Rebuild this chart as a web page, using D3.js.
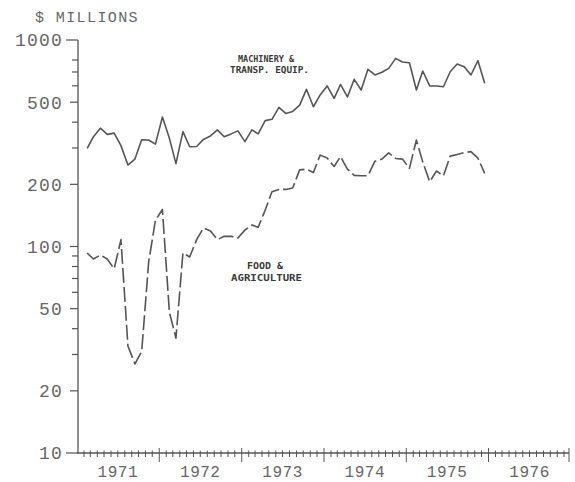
<!DOCTYPE html>
<html><head><meta charset="utf-8">
<script src="https://cdn.jsdelivr.net/npm/d3@7"></script>
<style>
html,body{margin:0;padding:0;background:#fff;}
svg{display:block;}
</style></head>
<body>
<svg id="c" width="575" height="482"></svg>
<script>
// ---- data (monthly, Feb 1971 - Dec 1975), $ millions ----
const startYear = 1971, startMonth = 1; // February (0-based month)
const years = ["1971","1972","1973","1974","1975","1976"];
const yTickValues = [1000,800,700,600,500,400,300,200,100,90,80,70,60,50,40,30,20,10];
const yTickLabels = [1000,500,200,100,50,20,10];
const machinery = [299,340,374,349,354,308,248,265,329,328,313,424,334,252,360,304,305,330,343,367,
  340,351,363,322,367,351,407,413,472,441,451,484,577,475,542,599,522,609,530,645,
  573,721,677,698,729,815,783,776,573,708,599,599,594,702,765,743,677,794,617];
const food = [93,87,91,87,78,108,33,27,31,84,134,151,48,36,93,89,108,123,119,108,
  112,112,110,120,127,124,150,184,189,189,192,235,237,228,277,268,244,273,237,221,
  220,220,259,265,284,267,265,239,328,257,206,232,220,274,279,285,288,268,226];
const seriesLabels = [["MACHINERY &","TRANSP. EQUIP."],["FOOD &","AGRICULTURE"]];
const unitLabel = "$ MILLIONS";

// ---- layout ----
const svg = d3.select("#c");
const ink = "#555", textInk = "#666";
const x = d3.scaleTime().domain([new Date(1971,0,1), new Date(1977,0,1)]).range([77, 571]);
const y = d3.scaleLog().domain([10,1000]).range([453, 40]);
const axisX = 78;
const dateOf = i => new Date(startYear, startMonth + i, 15);

// y axis
svg.append("line").attr("x1",axisX).attr("x2",axisX).attr("y1",y(1000)).attr("y2",y(10))
  .attr("stroke",ink).attr("stroke-width",1.3);
svg.selectAll(".yt").data(yTickValues).enter().append("line")
  .attr("x1", d => axisX - (d===1000||d===10 ? 12 : (yTickLabels.includes(d) ? 8 : 6)))
  .attr("x2", axisX).attr("y1", d=>y(d)).attr("y2", d=>y(d))
  .attr("stroke",ink).attr("stroke-width",1.2);
svg.selectAll(".yl").data(yTickLabels).enter().append("text")
  .attr("x", 63).attr("y", d=>y(d)).attr("dy","0.36em")
  .attr("text-anchor","end")
  .attr("font-family","'Liberation Mono','DejaVu Sans Mono',monospace")
  .attr("font-size", 18).attr("letter-spacing", 1.2)
  .attr("fill", textInk).text(d=>d);

// x axis
svg.append("line").attr("x1",77).attr("x2",569).attr("y1",453).attr("y2",453)
  .attr("stroke",ink).attr("stroke-width",1.3);
const months = d3.timeMonth.range(new Date(1971,1,1), new Date(1977,0,1));
svg.selectAll(".mt").data(months).enter().append("line")
  .attr("x1", d=>x(d)).attr("x2", d=>x(d))
  .attr("y1", d => d.getMonth()===0 ? 448 : 450.5)
  .attr("y2", d => d.getMonth()===0 ? 462 : 457)
  .attr("stroke",ink).attr("stroke-width",1);
svg.append("line").attr("x1",569).attr("x2",569).attr("y1",448).attr("y2",462)
  .attr("stroke",ink).attr("stroke-width",1);
svg.selectAll(".xl").data(years).enter().append("text")
  .attr("x", d => x(new Date(+d, 6, 1))).attr("y", 477)
  .attr("text-anchor","middle")
  .attr("font-family","'Liberation Mono','DejaVu Sans Mono',monospace")
  .attr("font-size", 16).attr("letter-spacing", 0.5)
  .attr("fill", textInk).text(d=>d);

// unit label
svg.append("text").attr("x",35).attr("y",22)
  .attr("font-family","'Liberation Mono','DejaVu Sans Mono',monospace")
  .attr("font-size",15).attr("letter-spacing",1.4)
  .attr("fill",textInk).text(unitLabel);

// lines
const line = d3.line().x((d,i)=>x(dateOf(i))).y(d=>y(d));
svg.append("path").datum(machinery).attr("d",line)
  .attr("fill","none").attr("stroke",ink).attr("stroke-width",1.6)
  .attr("stroke-linejoin","round");
svg.append("path").datum(food).attr("d",line)
  .attr("fill","none").attr("stroke",ink).attr("stroke-width",1.6)
  .attr("stroke-linejoin","round").attr("stroke-dasharray","15,4");

// series labels
const lab = [
  {t: seriesLabels[0][0], x: 238, y: 61.5, w: 56},
  {t: seriesLabels[0][1], x: 230, y: 72.5, w: 79},
  {t: seriesLabels[1][0], x: 247, y: 268.5, w: 36},
  {t: seriesLabels[1][1], x: 231, y: 280.5, w: 71}
];
svg.selectAll(".sl").data(lab).enter().append("text")
  .attr("x", d=>d.x).attr("y", d=>d.y)
  .attr("textLength", d=>d.w).attr("lengthAdjust","spacingAndGlyphs")
  .attr("font-family","'DejaVu Sans Mono',monospace").attr("font-weight","bold")
  .attr("font-size", 9.5).attr("fill","#3a3a3a").text(d=>d.t);
</script>
</body></html>
